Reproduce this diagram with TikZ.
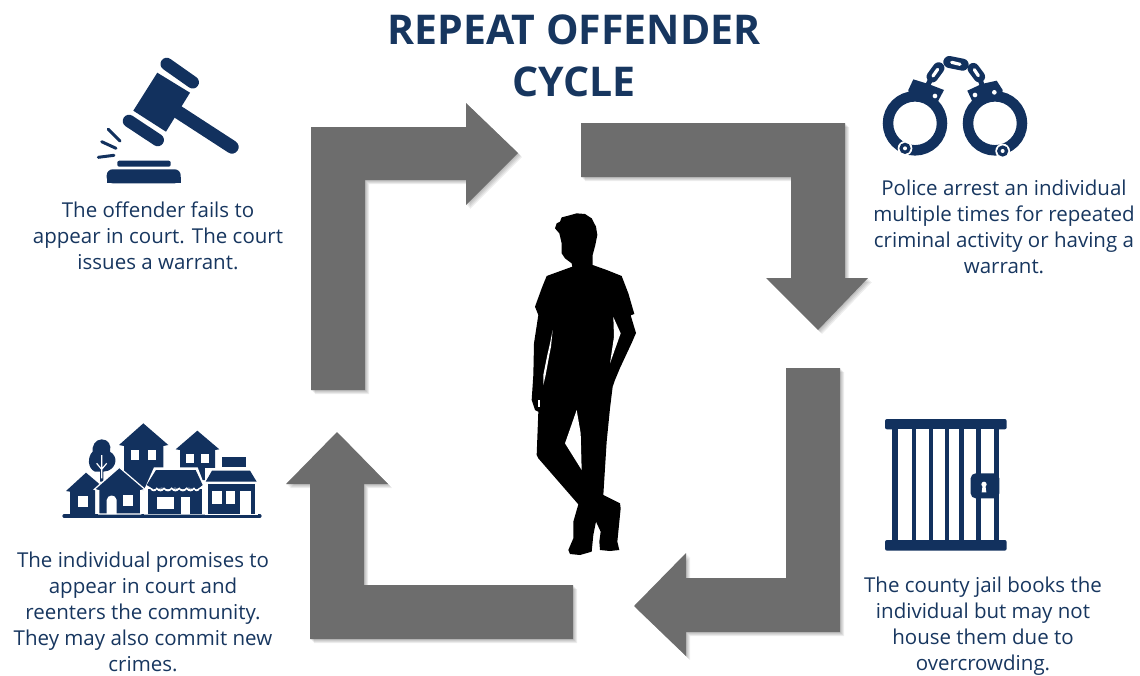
\documentclass[tikz,border=0pt]{standalone}
\usepackage{fontspec}
\setmainfont{Open Sans}
\definecolor{navy}{HTML}{12315E}
\definecolor{txt}{HTML}{17365F}
\definecolor{arrowgray}{HTML}{6D6D6D}
\newcommand{\arrowA}{(311,390)--(311,127)--(466,127)--(466,103)--(518,153)--(466,205)--(466,180)--(365,180)--(365,390)--cycle}
\newcommand{\arrowB}{(581,123)--(845,123)--(845,278)--(868,278)--(818,330)--(766,278)--(791,278)--(791,177)--(581,177)--cycle}
\newcommand{\arrowC}{(840,368)--(840,632)--(686,632)--(686,656)--(634,606)--(686,553)--(686,578)--(786,578)--(786,368)--cycle}
\newcommand{\arrowD}{(573,639)--(310,639)--(310,484)--(286,484)--(337,432)--(388,484)--(364,484)--(364,585)--(573,585)--cycle}
\tikzset{
  cyclearrow/.style={fill=arrowgray,draw=none},
  softshadow/.style={fill=black,opacity=0.07,draw=none},
  caption/.style={text=txt,align=center,font=\fontsize{20.5}{26}\selectfont,inner sep=0pt},
  headline/.style={text=txt,align=center,font=\fontsize{41}{52}\selectfont\bfseries,inner sep=0pt},
  icon/.style={fill=navy,draw=none},
  iconline/.style={draw=navy,line cap=round},
  gap/.style={fill=white,draw=none},
  gapline/.style={draw=white,line cap=round}
}
\begin{document}
\begin{tikzpicture}[x=1pt,y=-1pt]
\useasboundingbox (0,0) rectangle (1140,675);
% title
\node[headline] (title) at (574,56) {REPEAT OFFENDER\\CYCLE};
% arrows with a soft shadow
\foreach \d in {1,2,3,4}{
  \begin{scope}[shift={(\d,\d)}]
  \fill[softshadow] \arrowA; \fill[softshadow] \arrowB; \fill[softshadow] \arrowC; \fill[softshadow] \arrowD;
  \end{scope}
}
\fill[cyclearrow] \arrowA;
\fill[cyclearrow] \arrowB;
\fill[cyclearrow] \arrowC;
\fill[cyclearrow] \arrowD;
% captions
\node[caption] (c1) at (158,235.5) {The offender fails to\\appear in court. The court\\issues a warrant.};
\node[caption] (c2) at (1004,227) {Police arrest an individual\\multiple times for repeated\\criminal activity or having a\\warrant.};
\node[caption] (c3) at (143,612) {The individual promises to\\appear in court and\\reenters the community.\\They may also commit new\\crimes.};
\node[caption] (c4) at (983,626) {The county jail books the\\individual but may not\\house them due to\\overcrowding.};
% person
\begin{scope}[shift={(510,200)},scale=1/3]
\fill[black] (200,40)--(225,42)--(245,55)--(258,80)--(262,105)--(256,135)--(248,165)--(248,195)--(290,210)--(335,228)--(355,280)--(373,342)--(362,346)--(378,399)--(365,429)--(330,504)--(315,540)
--(308,560)--(300,625)--(290,725)--(280,885)--(330,910)--(332,925)--(322,1025)--(328,1050)--(300,1053)--(270,1050)--(268,1025)--(272,995)--(258,965)--(250,1005)--(245,1055)--(210,1065)--(180,1062)--(175,1050)--(190,1015)--(190,965)--(205,913)--(85,775)--(80,765)--(85,635)--(75,630)--(65,600)--(70,525)--(72,430)--(85,345)--(75,320)--(95,265)--(110,228)--(187,200)--(185,190)--(165,175)--(155,160)--(155,130)--(148,100)--(135,85)--(140,70)--(150,65)--(155,52)--(175,47)--cycle;
\fill[gap] (310,351)--(332,400)--(300,490)--(312,410)--cycle;
\fill[gap] (128,390)--(123,440)--(118,465)--(107,525)--(100,555)--(100,525)--(112,465)--(120,430)--cycle;
\fill[gap] (85,600)--(90,600)--(90,620)--(85,620)--cycle;
\fill[gap] (200,630)--(165,730)--(215,810)--(212,700)--cycle;
\end{scope}
% gavel
\fill[icon] (157.3,72.7)--(190,92.7)--(166,131.7)--(133.3,110.7)--cycle;
\draw[iconline,line width=12.5pt] (166.7,64)--(192.7,82.3);
\draw[iconline,line width=12.5pt] (129,121)--(157.7,140);
\draw[iconline,line width=13.3pt] (175,110)--(232,147);
\draw[iconline,line width=3pt] (108.3,129.3)--(120,141);
\draw[iconline,line width=3pt] (101.7,141.7)--(116,148.3);
\draw[iconline,line width=3pt] (98.3,157.3)--(114,155.3);
\fill[icon,rounded corners=2pt] (117.3,160.7) rectangle (170.7,166.7);
\fill[icon,rounded corners=6pt] (106.7,183.3)--(106.7,169.3)--(180.7,169.3)--(180.7,183.3)--cycle;
\fill[icon] (106.7,183.3) rectangle (180.7,177);
% handcuffs
\begin{scope}[shift={(860,40)},scale=1/3]
\draw[navy,line width=10.5pt] (165,250) circle (81);
\draw[navy,line width=10.5pt] (405,250) circle (81);
\fill[icon] (160,118)--(205,132)--(252,150)--(228,195)--(150,175)--(145,150)--cycle;
\fill[icon] (410,122)--(365,132)--(322,152)--(342,195)--(425,175)--(428,150)--cycle;
\fill[gap] (225,168) circle (7);
\fill[gap] (345,165) circle (7);
\fill[gap] (403,157) circle (7);
\fill[gap] (135,325) circle (22);
\fill[icon] (135,325) circle (17);
\fill[gap] (135,325) circle (6);
\fill[gap] (428,333) circle (22);
\fill[icon] (428,333) circle (17);
\fill[gap] (428,333) circle (6);
% chain
\draw[iconline,line width=5pt] (205,132)--(215,112);
\draw[iconline,line width=5pt] (365,132)--(358,112);
\draw[iconline,line width=11.5pt] (217,110)--(236,84);
\draw[gapline,line width=3.2pt] (219,108)--(233,88);
\draw[iconline,line width=11.5pt] (340,86)--(358,110);
\draw[gapline,line width=3.2pt] (343,89)--(355,107);
\draw[iconline,line width=12pt] (268,66)--(308,74);
\draw[gapline,line width=3.2pt] (275,67)--(300,73);
\end{scope}
% town
\begin{scope}[shift={(50,410)},scale=1/3]
\draw[navy,line width=3.2pt,line cap=round] (42,318)--(630,318);
% tree
\fill[icon] (155,88)..controls (135,88) and (125,110)..(128,125)..controls (112,140) and (112,175)..(135,185)--(150,185)--(150,215)--(160,215)--(160,185)--(175,182)..controls (200,170) and (205,140)..(180,125)..controls (185,105) and (175,88)..(155,88)--cycle;
\draw[white,line width=1.2pt] (155,205)--(155,135) (155,178)--(140,160) (155,178)--(170,160);
% back houses
\fill[icon] (280,40)--(355,105)--(340,108)--(340,240)--(222,240)--(222,108)--(207,105)--cycle;
\fill[gap] (243,120) rectangle (268,150);
\fill[gap] (293,120) rectangle (318,150);
\fill[icon] (442,62)--(508,118)--(495,120)--(495,210)--(390,210)--(390,120)--(377,118)--cycle;
\fill[gap] (408,133) rectangle (432,160);
\fill[gap] (452,133) rectangle (477,160);
% left house
\fill[icon] (108,188)--(148,222)--(135,235)--(135,312)--(60,312)--(60,245)--(48,243)--cycle;
\fill[gap] (83,257) rectangle (113,290);
% mid house
\fill[icon,draw=white,line width=1.2pt] (208,172)--(285,238)--(272,242)--(272,312)--(146,312)--(146,242)--(133,238)--cycle;
\fill[gap] (170,312)--(170,270)..controls (172,252) and (198,252)..(200,270)--(200,312)--cycle;
\fill[gap] (220,255) rectangle (248,288);
% shop
\fill[gap] (282,240)--(312,172)--(443,172)--(466,232)--(466,314)--(282,314)--cycle;
\fill[icon] (318,180)--(437,180)--(458,225)--(440,240)--(415,232)--(395,240)--(375,232)--(355,240)--(335,232)--(315,240)--(290,225)--cycle;
\fill[icon] (293,236) rectangle (455,312);
\fill[icon] (315,240)--(335,232)--(355,240)--(375,232)--(395,240)--(415,232)--(440,240)--(440,236)--(315,236)--cycle;
\fill[gap] (300,236)..controls (305,246) and (318,246)..(320,238)..controls (325,246) and (338,246)..(342,238)..controls (348,246) and (360,246)..(365,238)..controls (370,246) and (382,246)..(388,238)..controls (392,246) and (405,246)..(410,238)..controls (415,246) and (428,246)..(432,238)..controls (436,246) and (445,246)..(450,236)--(450,233)..controls (445,240) and (436,240)..(432,232)..controls (428,240) and (415,240)..(410,232)..controls (405,240) and (392,240)..(388,232)..controls (382,240) and (370,240)..(365,232)..controls (360,240) and (348,240)..(342,232)..controls (338,240) and (325,240)..(320,232)..controls (318,240) and (305,240)..(300,233)--cycle;
\fill[gap] (320,260) rectangle (373,297);
\fill[gap] (392,262) rectangle (420,312);
% right shop
\fill[gap] (464,175) rectangle (625,314);
\fill[icon] (516,142) rectangle (588,172);
\fill[icon] (486,182)--(600,182)--(620,215)--(467,215)--cycle;
\fill[icon] (473,222) rectangle (615,312);
\fill[gap] (487,243) rectangle (515,282);
\fill[gap] (527,243) rectangle (556,282);
\fill[gap] (570,243) rectangle (602,312);
\end{scope}
% jail
\begin{scope}[shift={(870,405)},scale=1/3]
\fill[icon,rounded corners=2pt] (45,42) rectangle (410,73);
\fill[icon,rounded corners=2pt] (45,405) rectangle (410,437);
\fill[icon] (65,60) rectangle (388,420);
\foreach \a/\b in {85/125,138/177,190/225,238/268,283/318,332/372}
  \fill[gap] (\a,73) rectangle (\b,405);
\fill[icon,rounded corners=5pt] (302,205) rectangle (388,280);
\fill[gap] (342,238) circle (8);
\fill[gap] (338,240)--(346,240)--(349,262)--(335,262)--cycle;
\end{scope}
\end{tikzpicture}
\end{document}
